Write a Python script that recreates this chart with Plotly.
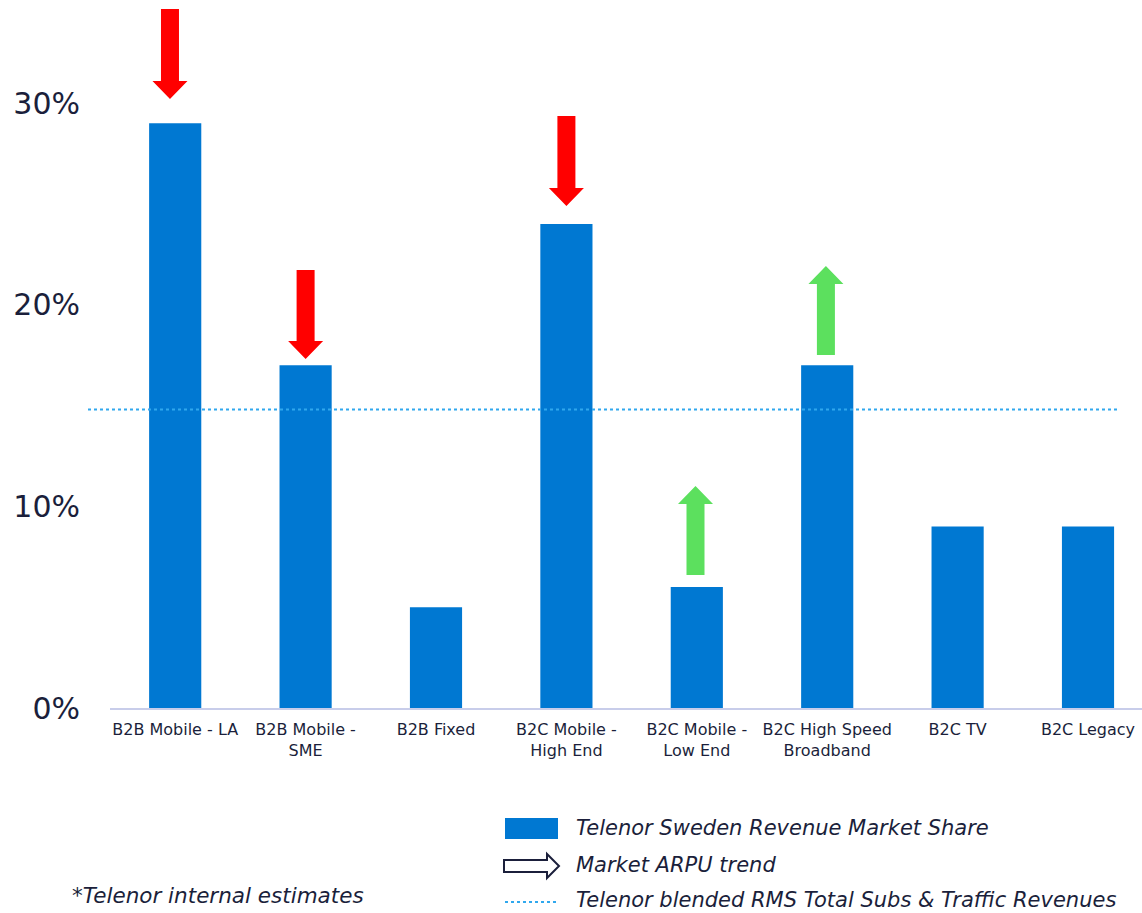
import plotly.graph_objects as go

# ---------------- data ----------------
categories = [
    "B2B Mobile - LA", "B2B Mobile -<br>SME", "B2B Fixed", "B2C Mobile -<br>High End",
    "B2C Mobile -<br>Low End", "B2C High Speed<br>Broadband", "B2C TV", "B2C Legacy",
]
market_share = [0.29, 0.17, 0.05, 0.24, 0.06, 0.17, 0.09, 0.09]
blended_rms = 0.148

# ARPU trend arrows: category position, tail value, tip value, direction colour
arrow_pos = [-0.04, 1.0, 3.0, 3.99, 4.99]
arrow_tail = [0.3466, 0.2172, 0.2935, 0.0660, 0.1750]
arrow_tip = [0.3020, 0.1731, 0.2489, 0.1101, 0.2192]
arrow_trend = ["down", "down", "down", "up", "up"]

ytick_vals = [0, 0.1, 0.2, 0.3]

legend_labels = [
    "Telenor Sweden Revenue Market Share",
    "Market ARPU trend",
    "Telenor blended RMS Total Subs & Traffic Revenues",
]
footnote = "*Telenor internal estimates"

# ---------------- style ----------------
W, H = 1142, 913
ML, MR, MT, MB = 110, 0, 5, 205
PW, PH = W - ML - MR, H - MT - MB
FONT = "Verdana, DejaVu Sans, sans-serif"
TXT = "#1b1f3b"
BAR = "#0078d2"
RED = "#ff0000"
GREEN = "#5ce05e"
DOT = "#30a8ee"
YMAX = 0.3486
XMIN, XMAX = -0.5, 7.414

def px_x(p):
    return (p - ML) / PW

def px_y(p):
    return (H - MB - p) / PH

# arrow geometry (in data units)
unit_px = PW / (XMAX - XMIN)
y_px = PH / YMAX
shaft_hw = 9 / unit_px
head_hw = 17.5 / unit_px
head_len = 18 / y_px

fig = go.Figure()
fig.add_trace(go.Bar(
    x=list(range(len(categories))), y=market_share, width=0.4,
    marker=dict(color=BAR, line=dict(width=0)), hoverinfo="skip",
))

for xc, yt, yh, tr in zip(arrow_pos, arrow_tail, arrow_tip, arrow_trend):
    s = 1 if yh > yt else -1
    yn = yh - s * head_len
    xs = [xc - shaft_hw, xc + shaft_hw, xc + shaft_hw, xc + head_hw, xc,
          xc - head_hw, xc - shaft_hw, xc - shaft_hw]
    ys = [yt, yt, yn, yn, yh, yn, yn, yt]
    col = RED if tr == "down" else GREEN
    fig.add_trace(go.Scatter(
        x=xs, y=ys, mode="lines", fill="toself", fillcolor=col,
        line=dict(width=0, color=col), hoverinfo="skip", cliponaxis=False,
    ))

# blended RMS dotted line
fig.add_shape(type="line", xref="paper", yref="y",
              x0=px_x(88), x1=px_x(1118), y0=blended_rms, y1=blended_rms,
              line=dict(color=DOT, width=2, dash="dot"))

# ---------------- custom legend ----------------
leg_y = [828, 865, 900]
fig.add_shape(type="rect", xref="paper", yref="paper",
              x0=px_x(505), x1=px_x(558), y0=px_y(818), y1=px_y(839),
              fillcolor=BAR, line=dict(width=0))
ax = [504, 547, 547, 559, 547, 547, 504]
ay = [860, 860, 854, 866, 878, 872, 872]
path = "M " + " L ".join(f"{px_x(a):.5f},{px_y(b):.5f}" for a, b in zip(ax, ay)) + " Z"
fig.add_shape(type="path", xref="paper", yref="paper", path=path,
              fillcolor="white", line=dict(color=TXT, width=2))
fig.add_shape(type="line", xref="paper", yref="paper",
              x0=px_x(505), x1=px_x(558), y0=px_y(902), y1=px_y(902),
              line=dict(color=DOT, width=2, dash="dot"))
for lab, yy in zip(legend_labels, leg_y):
    fig.add_annotation(xref="paper", yref="paper", x=px_x(574), y=px_y(yy),
                       text=f"<i>{lab}</i>", showarrow=False, xanchor="left",
                       yanchor="middle", font=dict(family=FONT, size=21, color=TXT))
fig.add_annotation(xref="paper", yref="paper", x=px_x(70), y=px_y(895),
                   text=f"<i>{footnote}</i>", showarrow=False, xanchor="left",
                   yanchor="middle", font=dict(family=FONT, size=21.5, color=TXT))

fig.update_layout(
    width=W, height=H, margin=dict(l=ML, r=MR, t=MT, b=MB),
    paper_bgcolor="white", plot_bgcolor="white", showlegend=False,
    hovermode=False, font=dict(family=FONT, color=TXT),
    bargap=0.6,
)
fig.update_xaxes(
    range=[XMIN, XMAX], tickvals=list(range(len(categories))), ticktext=categories,
    showgrid=False, zeroline=False, showline=True, linecolor="#c8cdea", linewidth=2,
    ticks="", tickfont=dict(family=FONT, size=16, color=TXT), ticklabelstandoff=6,
    fixedrange=True,
)
fig.update_yaxes(
    range=[0, YMAX], tickvals=ytick_vals, tickformat=".0%", showgrid=False,
    zeroline=False, showline=False, ticks="",
    tickfont=dict(family=FONT, size=30, color=TXT), ticklabelstandoff=29,
    fixedrange=True,
)

fig.write_html("out.html")
